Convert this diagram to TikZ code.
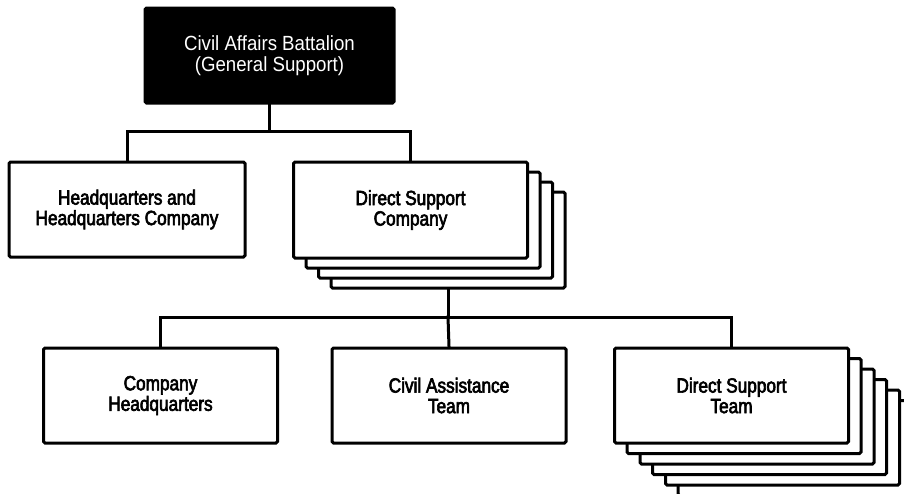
\documentclass[tikz,border=0pt]{standalone}
\usepackage{fontspec}
\setmainfont{Liberation Sans}[FakeStretch=0.91]
\newfontfamily\unitfont{Liberation Sans}[FakeStretch=0.84,FakeBold=3]
\begin{document}
\begin{tikzpicture}[x=1pt,y=-1pt,
  unit/.style={draw=black, line width=3pt, fill=white, rounded corners=1.5pt,
    minimum width=234pt, minimum height=95pt, inner sep=0pt,
    align=center, font=\unitfont\fontsize{20.5}{20.5}\selectfont},
  cmd/.style={unit, fill=black, text=white, minimum width=249pt,
    font=\rmfamily\fontsize{20.5}{21}\selectfont},
  link/.style={line width=3pt, line cap=rect}]
  \useasboundingbox (0,0) rectangle (904,493);
  \clip (0,0) rectangle (904,493);

  % battalion headquarters
  \node[cmd] (bn) at (269.5,55.5) {Civil Affairs Battalion\\(General Support)};

  % second level
  \node[unit, minimum width=236pt] (hhc) at (127,209.5) {Headquarters and\\Headquarters Company};
  \node[unit, minimum height=96pt] (dsc3) at (448,240) {};
  \node[unit, minimum height=96pt] (dsc2) at (435.5,230) {};
  \node[unit, minimum height=96pt] (dsc1) at (423,220) {};
  \node[unit, minimum height=96pt] (dsc) at (410.5,210) {Direct Support\\Company};

  % third level
  \node[unit] (chq) at (160.5,395.5) {Company\\Headquarters};
  \node[unit] (cat) at (449,395.5) {Civil Assistance\\Team};
  \node[unit] (dst5) at (795,448) {};
  \node[unit] (dst4) at (782.5,437.5) {};
  \node[unit] (dst3) at (769.5,427) {};
  \node[unit] (dst2) at (757,416.5) {};
  \node[unit] (dst1) at (744,406) {};
  \node[unit] (dst) at (731.5,395.5) {Direct Support\\Team};

  % connectors
  \coordinate (busA) at (269.5,131);
  \coordinate (busB) at (448,317);
  \draw[link] (bn.south) -- (busA);
  \draw[link] (hhc.north) |- (busA) -| (dsc.north);
  \draw[link] (dsc3.south) -- (busB);
  \draw[link] (chq.north) |- (busB) -| (dst.north);
  \draw[link] (busB) -- (cat.north);
\end{tikzpicture}
\end{document}
